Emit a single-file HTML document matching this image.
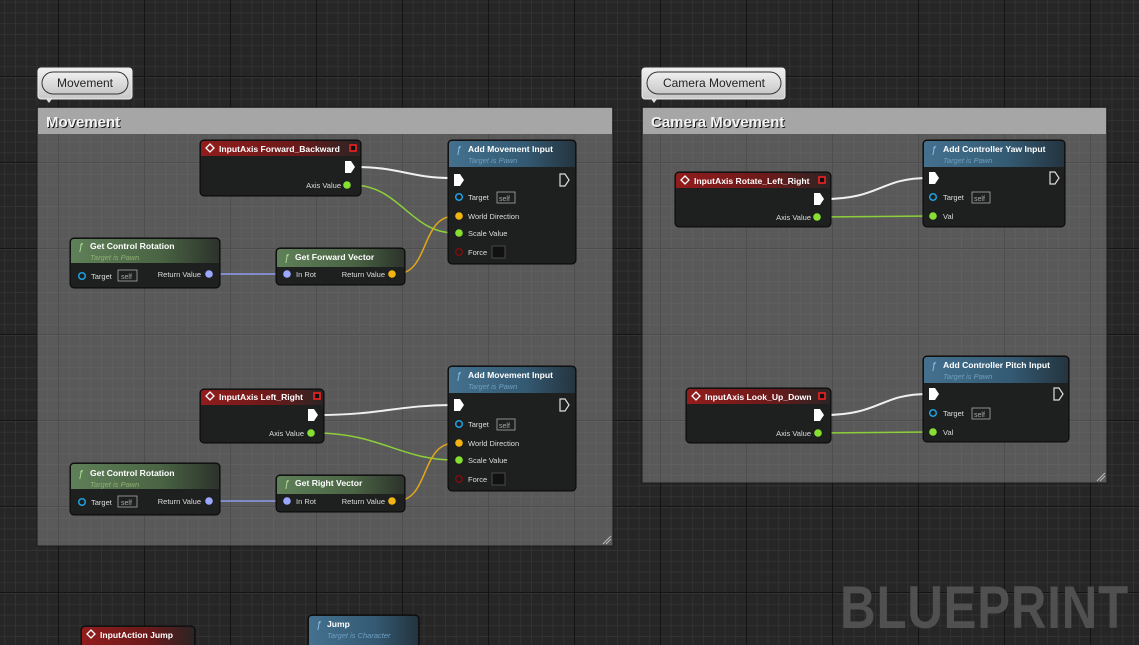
<!DOCTYPE html>
<html><head><meta charset="utf-8"><style>
html,body{margin:0;padding:0;background:#262626;overflow:hidden}
#bg{position:absolute;left:0;top:0;width:1139px;height:645px;
background-color:#262626;
background-image:
linear-gradient(to right,#141414 1px,transparent 1px),
linear-gradient(to bottom,#141414 1px,transparent 1px),
linear-gradient(to right,#323232 1px,transparent 1px),
linear-gradient(to bottom,#323232 1px,transparent 1px);
background-size:86px 86px,86px 86px,10.75px 10.75px,10.75px 10.75px;
background-position:58px 0,0 76px,4.25px 0,0 1.75px;}
svg{position:absolute;left:0;top:0}
text{font-family:"Liberation Sans",sans-serif}
.t{font-size:8.6px;font-weight:bold;fill:#fff}
.s{font-size:7.5px;font-style:italic}
.p{font-size:7.5px;fill:#ddd}
</style></head><body>
<div id="bg"></div>
<svg width="1139" height="645" viewBox="0 0 1139 645">
<defs>
<linearGradient id="gr" x1="0" x2="1"><stop offset="0" stop-color="#921c1c"/><stop offset="0.6" stop-color="#6a1a1a"/><stop offset="1" stop-color="#2b2424"/></linearGradient>
<linearGradient id="gb" x1="0" x2="1"><stop offset="0" stop-color="#44718f"/><stop offset="0.6" stop-color="#345a73"/><stop offset="1" stop-color="#24343f"/></linearGradient>
<linearGradient id="gg" x1="0" x2="1"><stop offset="0" stop-color="#5f8058"/><stop offset="0.6" stop-color="#4a6444"/><stop offset="1" stop-color="#2c332b"/></linearGradient>
<linearGradient id="bub" x1="0" y1="0" x2="0" y2="1"><stop offset="0" stop-color="#f0f0f0"/><stop offset="1" stop-color="#c8c8c8"/></linearGradient>
</defs>

<rect x="37" y="107" width="576" height="439" fill="rgba(160,160,160,0.42)" stroke="#1a1a1a"/>
<rect x="38" y="108" width="574" height="26" fill="#a6a6a6"/>
<text x="47" y="128" font-size="15" font-weight="bold" fill="#1a1a1a">Movement</text>
<text x="46" y="127" font-size="15" font-weight="bold" fill="#f4f4f4">Movement</text>
<rect x="642" y="107" width="465" height="376" fill="rgba(160,160,160,0.42)" stroke="#1a1a1a"/>
<rect x="643" y="108" width="463" height="26" fill="#a6a6a6"/>
<text x="652" y="128" font-size="15" font-weight="bold" fill="#1a1a1a">Camera Movement</text>
<text x="651" y="127" font-size="15" font-weight="bold" fill="#f4f4f4">Camera Movement</text>
<g stroke="#bbb" stroke-width="1"><line x1="603" y1="544" x2="611" y2="536"/><line x1="606" y1="544" x2="611" y2="539"/><line x1="1097" y1="481" x2="1105" y2="473"/><line x1="1100" y1="481" x2="1105" y2="476"/></g>

<rect x="38" y="68" width="94" height="31" rx="3" fill="url(#bub)" stroke="#eee"/>
<polygon points="46,99 52,99 49,103" fill="#ddd"/>
<rect x="42" y="72" width="86" height="22" rx="11" fill="url(#bub)" stroke="#333"/>
<text x="85" y="87" font-size="12" fill="#222" text-anchor="middle">Movement</text>
<rect x="642" y="68" width="143" height="31" rx="3" fill="url(#bub)" stroke="#eee"/>
<polygon points="651,99 657,99 654,103" fill="#ddd"/>
<rect x="647" y="72" width="134" height="22" rx="11" fill="url(#bub)" stroke="#333"/>
<text x="714" y="87" font-size="12" fill="#222" text-anchor="middle">Camera Movement</text>

<g fill="none" stroke-width="2">
<path d="M355 167 C400 167,410 178,452 178" stroke="#f0f0f0"/>
<path d="M352 185 C400 185,410 233,455 233" stroke="#8ccf3a" stroke-width="1.5"/>
<path d="M213 274 L284 274" stroke="#8f9cf0" stroke-width="1.5"/>
<path d="M396 274 C430 274,420 216,455 216" stroke="#e0a818" stroke-width="1.5"/>
<path d="M318 415 C380 415,400 405,452 405" stroke="#f0f0f0"/>
<path d="M315 433 C380 433,400 460,455 460" stroke="#8ccf3a" stroke-width="1.5"/>
<path d="M213 501 L284 501" stroke="#8f9cf0" stroke-width="1.5"/>
<path d="M396 501 C430 501,420 443,455 443" stroke="#e0a818" stroke-width="1.5"/>
<path d="M824 199 C880 199,880 178,928 178" stroke="#f0f0f0"/>
<path d="M821 217 L930 216" stroke="#8ccf3a" stroke-width="1.5"/>
<path d="M824 415 C880 415,880 394,928 394" stroke="#f0f0f0"/>
<path d="M822 433 L930 432" stroke="#8ccf3a" stroke-width="1.5"/>
</g>

<g stroke="#060606">
<rect x="200" y="140" width="161" height="56" rx="4" fill="#1e1f1f"/>
<rect x="448" y="140" width="128" height="124" rx="4" fill="#1e1f1f"/>
<rect x="70" y="238" width="150" height="50" rx="4" fill="#1e1f1f"/>
<rect x="276" y="248" width="129" height="37" rx="4" fill="#1e1f1f"/>
<rect x="200" y="389" width="124" height="54" rx="4" fill="#1e1f1f"/>
<rect x="448" y="366" width="128" height="125" rx="4" fill="#1e1f1f"/>
<rect x="70" y="463" width="150" height="52" rx="4" fill="#1e1f1f"/>
<rect x="276" y="475" width="129" height="37" rx="4" fill="#1e1f1f"/>
<rect x="675" y="172" width="156" height="55" rx="4" fill="#1e1f1f"/>
<rect x="923" y="140" width="142" height="87" rx="4" fill="#1e1f1f"/>
<rect x="686" y="388" width="145" height="55" rx="4" fill="#1e1f1f"/>
<rect x="923" y="356" width="146" height="86" rx="4" fill="#1e1f1f"/>
<rect x="81" y="626" width="114" height="30" rx="4" fill="#1e1f1f"/>
<rect x="308" y="615" width="111" height="40" rx="4" fill="#1e1f1f"/>
</g>
<path d="M204 141 H357 Q360 141 360 144 V156 H201 V144 Q201 141 204 141Z" fill="url(#gr)"/>
<path d="M452 141 H572 Q575 141 575 144 V167 H449 V144 Q449 141 452 141Z" fill="url(#gb)"/>
<path d="M74 239 H216 Q219 239 219 242 V263 H71 V242 Q71 239 74 239Z" fill="url(#gg)"/>
<path d="M280 249 H401 Q404 249 404 252 V267 H277 V252 Q277 249 280 249Z" fill="url(#gg)"/>
<path d="M204 390 H320 Q323 390 323 393 V405 H201 V393 Q201 390 204 390Z" fill="url(#gr)"/>
<path d="M452 367 H572 Q575 367 575 370 V393 H449 V370 Q449 367 452 367Z" fill="url(#gb)"/>
<path d="M74 464 H216 Q219 464 219 467 V489 H71 V467 Q71 464 74 464Z" fill="url(#gg)"/>
<path d="M280 476 H401 Q404 476 404 479 V494 H277 V479 Q277 476 280 476Z" fill="url(#gg)"/>
<path d="M679 173 H827 Q830 173 830 176 V188 H676 V176 Q676 173 679 173Z" fill="url(#gr)"/>
<path d="M927 141 H1061 Q1064 141 1064 144 V167 H924 V144 Q924 141 927 141Z" fill="url(#gb)"/>
<path d="M690 389 H827 Q830 389 830 392 V404 H687 V392 Q687 389 690 389Z" fill="url(#gr)"/>
<path d="M927 357 H1065 Q1068 357 1068 360 V383 H924 V360 Q924 357 927 357Z" fill="url(#gb)"/>
<path d="M85 627 H191 Q194 627 194 630 V645 H82 V630 Q82 627 85 627Z" fill="url(#gr)"/>
<path d="M312 616 H415 Q418 616 418 619 V645 H309 V619 Q309 616 312 616Z" fill="url(#gb)"/>

<g fill="none" stroke="#fff" stroke-width="1.3">
<path d="M210 144 L214 148 L210 152 L206 148Z"/>
<path d="M210 392 L214 396 L210 400 L206 396Z"/>
<path d="M685 176 L689 180 L685 184 L681 180Z"/>
<path d="M696 392 L700 396 L696 400 L692 396Z"/>
<path d="M91 630 L95 634 L91 638 L87 634Z"/>
</g>
<g fill="#111" stroke="#f22" stroke-width="1.5">
<rect x="350" y="145" width="6" height="6"/><rect x="314" y="393" width="6" height="6"/>
<rect x="819" y="177" width="6" height="6"/><rect x="819" y="393" width="6" height="6"/>
</g>

<text class="t" x="219" y="152">InputAxis Forward_Backward</text>
<text class="t" x="219" y="400">InputAxis Left_Right</text>
<text class="t" x="694" y="184">InputAxis Rotate_Left_Right</text>
<text class="t" x="705" y="400">InputAxis Look_Up_Down</text>
<text class="t" x="100" y="638">InputAction Jump</text>
<g font-size="10" font-style="italic" fill="#8cc4e8">
<text x="456" y="153">ƒ</text><text x="456" y="379">ƒ</text><text x="931" y="153">ƒ</text><text x="931" y="369">ƒ</text><text x="316" y="628">ƒ</text>
</g>
<g font-size="10" font-style="italic" fill="#b6e09a">
<text x="78" y="250">ƒ</text><text x="78" y="477">ƒ</text><text x="284" y="261">ƒ</text><text x="284" y="487">ƒ</text>
</g>
<text class="t" x="468" y="152">Add Movement Input</text>
<text class="t" x="468" y="378">Add Movement Input</text>
<text class="t" x="943" y="152">Add Controller Yaw Input</text>
<text class="t" x="943" y="368">Add Controller Pitch Input</text>
<text class="t" x="327" y="627">Jump</text>
<text class="t" x="90" y="249">Get Control Rotation</text>
<text class="t" x="90" y="476">Get Control Rotation</text>
<text class="t" x="295" y="260">Get Forward Vector</text>
<text class="t" x="295" y="486">Get Right Vector</text>
<g fill="#6e9fbf">
<text class="s" x="468" y="163">Target is Pawn</text><text class="s" x="468" y="389">Target is Pawn</text>
<text class="s" x="943" y="163">Target is Pawn</text><text class="s" x="943" y="379">Target is Pawn</text>
<text class="s" x="327" y="638">Target is Character</text>
</g>
<g fill="#8fae72">
<text class="s" x="90" y="260">Target is Pawn</text><text class="s" x="90" y="487">Target is Pawn</text>
</g>

<g>
<text class="p" x="341" y="188" text-anchor="end">Axis Value</text>
<text class="p" x="304" y="436" text-anchor="end">Axis Value</text>
<text class="p" x="811" y="220" text-anchor="end">Axis Value</text>
<text class="p" x="811" y="436" text-anchor="end">Axis Value</text>
<text class="p" x="468" y="200">Target</text><text class="p" x="468" y="219">World Direction</text><text class="p" x="468" y="236">Scale Value</text><text class="p" x="468" y="255">Force</text>
<text class="p" x="468" y="427">Target</text><text class="p" x="468" y="446">World Direction</text><text class="p" x="468" y="463">Scale Value</text><text class="p" x="468" y="482">Force</text>
<text class="p" x="943" y="200">Target</text><text class="p" x="943" y="219">Val</text>
<text class="p" x="943" y="416">Target</text><text class="p" x="943" y="435">Val</text>
<text class="p" x="91" y="279">Target</text><text class="p" x="201" y="277" text-anchor="end">Return Value</text>
<text class="p" x="91" y="505">Target</text><text class="p" x="201" y="504" text-anchor="end">Return Value</text>
<text class="p" x="296" y="277">In Rot</text><text class="p" x="385" y="277" text-anchor="end">Return Value</text>
<text class="p" x="296" y="504">In Rot</text><text class="p" x="385" y="504" text-anchor="end">Return Value</text>
</g>
<g fill="none" stroke="#aaa" stroke-width="0.8">
<rect x="497" y="192" width="18" height="11"/><rect x="497" y="419" width="18" height="11"/>
<rect x="972" y="192" width="18" height="11"/><rect x="972" y="408" width="18" height="11"/>
<rect x="118" y="270" width="19" height="11"/><rect x="118" y="496" width="19" height="11"/>
</g>
<g font-size="7" fill="#aaa">
<text x="499" y="201">self</text><text x="499" y="428">self</text><text x="974" y="201">self</text><text x="974" y="417">self</text>
<text x="121" y="279">self</text><text x="121" y="505">self</text>
</g>
<g fill="#111" stroke="#555" stroke-width="0.8"><rect x="492" y="246" width="13" height="12"/><rect x="492" y="473" width="13" height="12"/></g>

<g fill="#fff">
<path d="M345 161 H351 L355 167 L351 173 H345Z"/>
<path d="M308 409 H314 L318 415 L314 421 H308Z"/>
<path d="M814 193 H820 L824 199 L820 205 H814Z"/>
<path d="M814 409 H820 L824 415 L820 421 H814Z"/>
<path d="M454 174 H460 L464 180 L460 186 H454Z"/>
<path d="M454 399 H460 L464 405 L460 411 H454Z"/>
<path d="M929 172 H935 L939 178 L935 184 H929Z"/>
<path d="M929 388 H935 L939 394 L935 400 H929Z"/>
</g>
<g fill="none" stroke="#ddd" stroke-width="1.2">
<path d="M560 174 H565 L569 180 L565 186 H560Z"/>
<path d="M560 399 H565 L569 405 L565 411 H560Z"/>
<path d="M1050 172 H1055 L1059 178 L1055 184 H1050Z"/>
<path d="M1054 388 H1059 L1063 394 L1059 400 H1054Z"/>
</g>
<g>
<g fill="#86e030"><circle cx="347" cy="185" r="3.8"/><circle cx="311" cy="433" r="3.8"/><circle cx="817" cy="217" r="3.8"/><circle cx="818" cy="433" r="3.8"/>
<circle cx="459" cy="233" r="3.8"/><circle cx="459" cy="460" r="3.8"/><circle cx="933" cy="216" r="3.8"/><circle cx="933" cy="432" r="3.8"/></g>
<g fill="#f3b310"><circle cx="392" cy="274" r="3.8"/><circle cx="392" cy="501" r="3.8"/><circle cx="459" cy="216" r="3.8"/><circle cx="459" cy="443" r="3.8"/></g>
<g fill="#9aa8ff"><circle cx="209" cy="274" r="3.8"/><circle cx="209" cy="501" r="3.8"/><circle cx="287" cy="274" r="3.8"/><circle cx="287" cy="501" r="3.8"/></g>
<g fill="none" stroke="#1fa0e0" stroke-width="1.5"><circle cx="459" cy="197" r="3.3"/><circle cx="459" cy="424" r="3.3"/><circle cx="933" cy="197" r="3.3"/><circle cx="933" cy="413" r="3.3"/><circle cx="82" cy="276" r="3.3"/><circle cx="82" cy="502" r="3.3"/></g>
<g fill="none" stroke="#7a0f0f" stroke-width="1.5"><circle cx="459" cy="252" r="3.3"/><circle cx="459" cy="479" r="3.3"/></g>
</g>

<text x="1129" y="628" text-anchor="end" font-size="60" font-weight="bold" fill="#505050" transform="translate(1129 0) scale(0.82 1) translate(-1129 0)" style="letter-spacing:1px">BLUEPRINT</text>
</svg>
</body></html>
